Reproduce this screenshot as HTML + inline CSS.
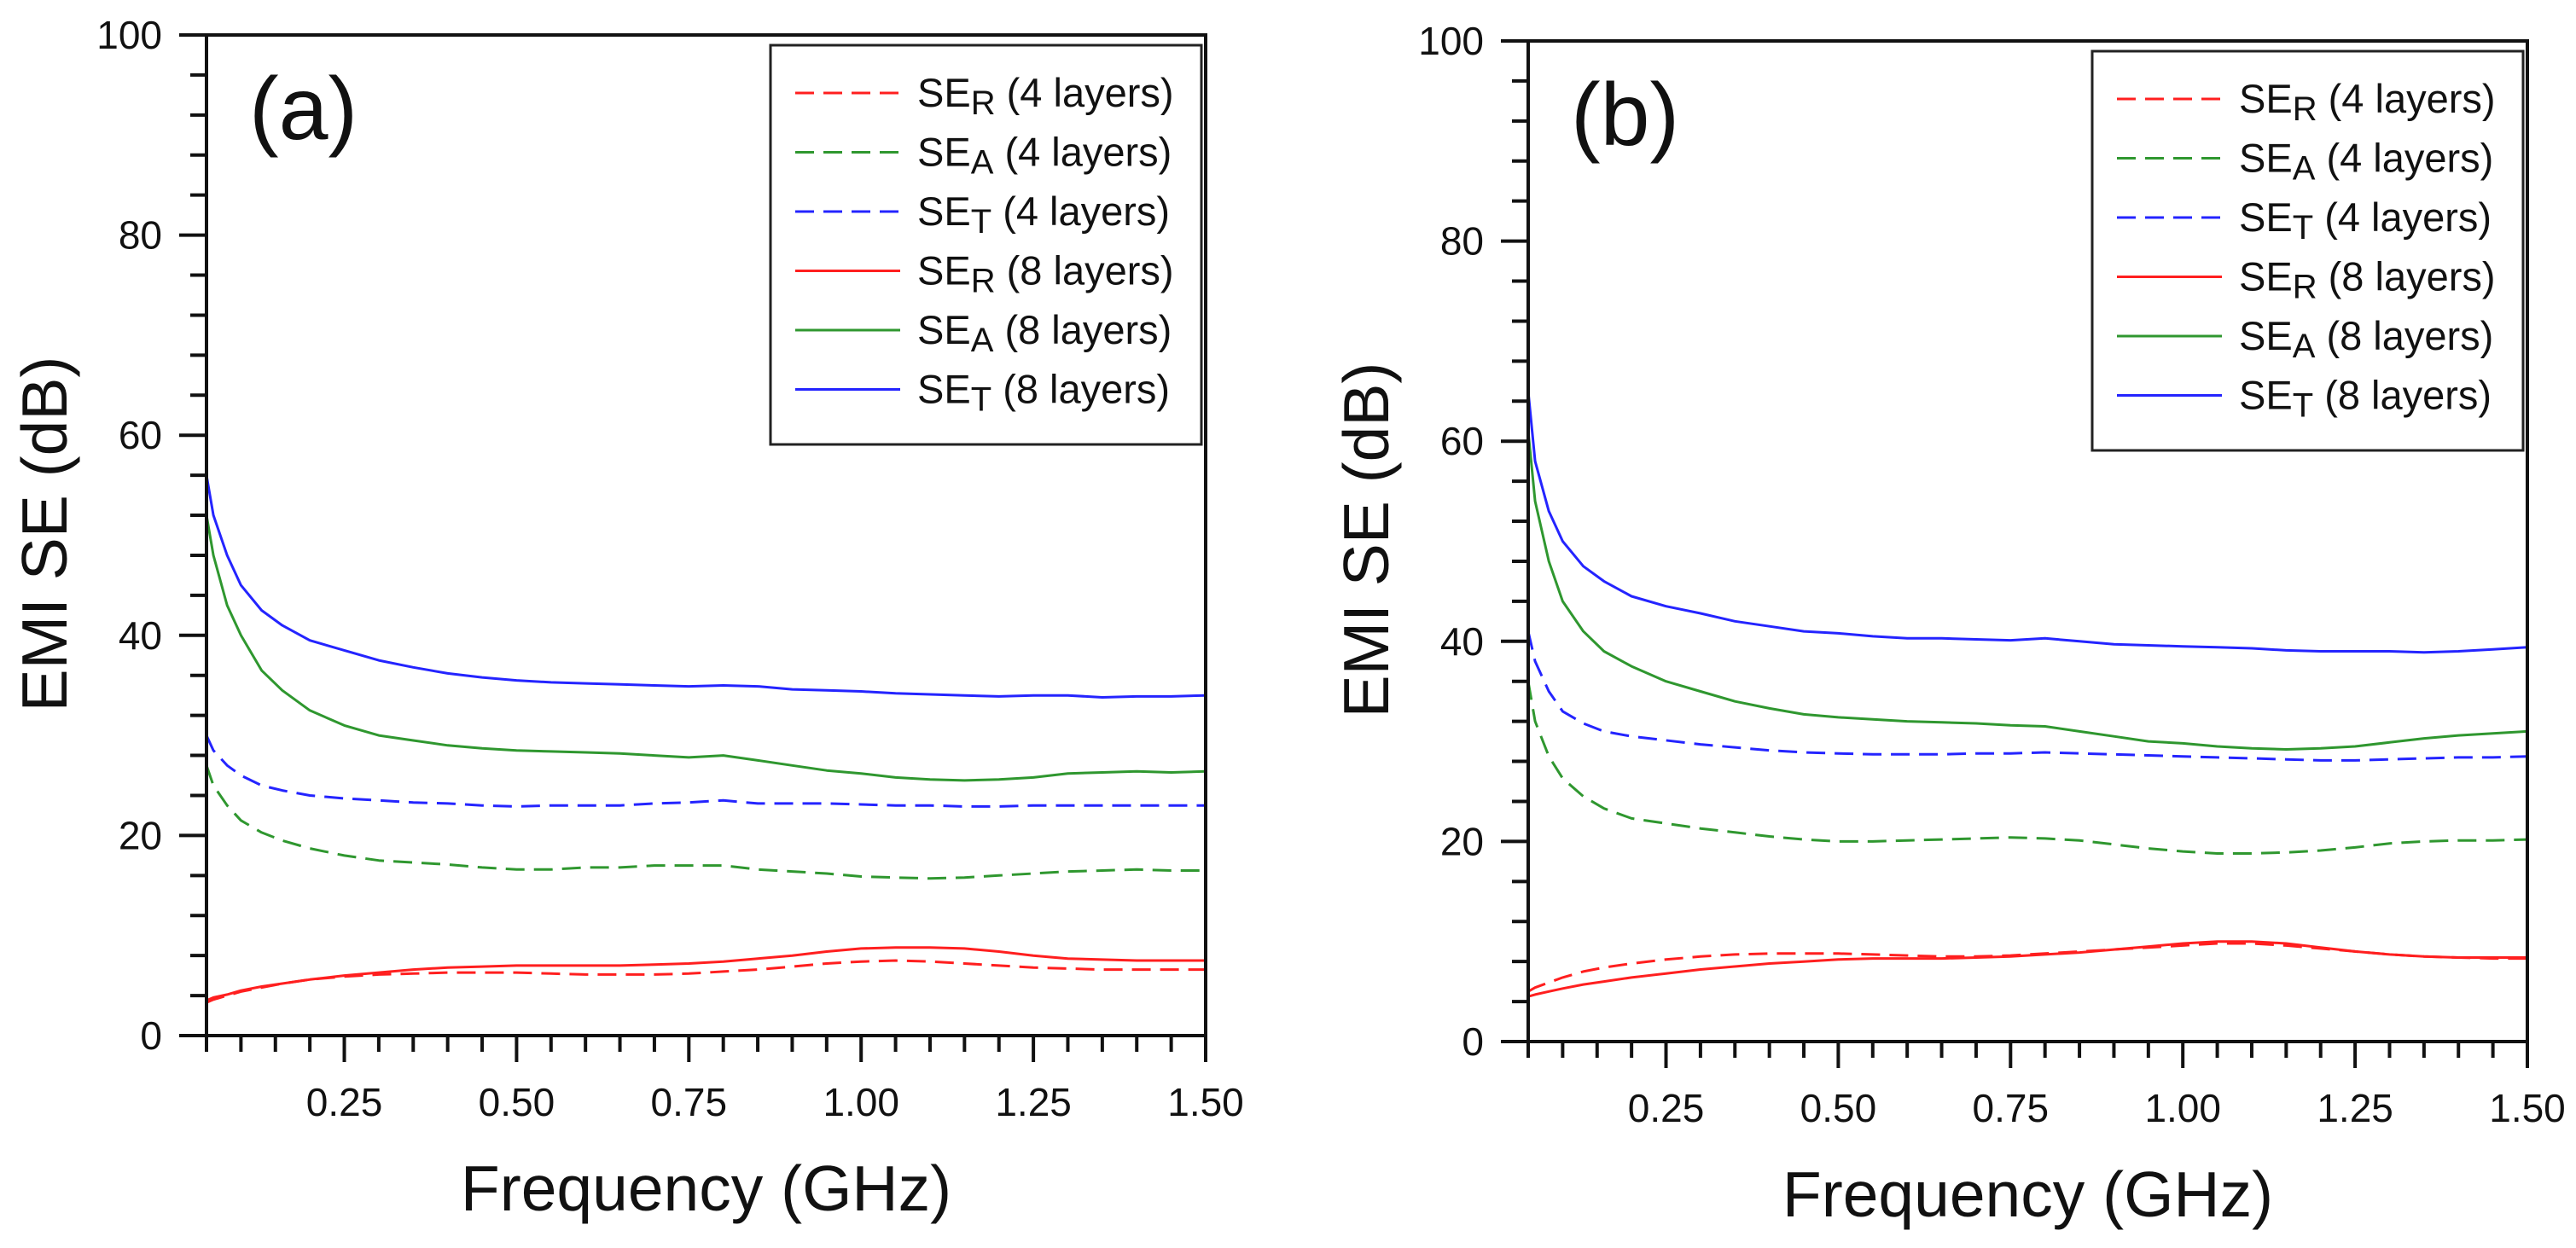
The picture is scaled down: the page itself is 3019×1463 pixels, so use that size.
<!DOCTYPE html>
<html><head><meta charset="utf-8"><style>
html,body{margin:0;padding:0;background:#fff;}
svg{display:block;font-family:"Liberation Sans",Arial,sans-serif;}
</style></head><body>
<svg id="fig" width="3019" height="1463" viewBox="0 0 3019 1463" xmlns="http://www.w3.org/2000/svg"></svg>
<script>
const freq = [0.05,0.06,0.08,0.1,0.13,0.16,0.2,0.25,0.3,0.35,0.4,0.45,0.5,0.55,0.6,0.65,0.7,0.75,0.8,0.85,0.9,0.95,1.0,1.05,1.1,1.15,1.2,1.25,1.3,1.35,1.4,1.45,1.5];
const xTicks = [0.25,0.5,0.75,1.0,1.25,1.5];
const xTickLabels = ["0.25","0.50","0.75","1.00","1.25","1.50"];
const yTicks = [0,20,40,60,80,100];
const a_SER4 = [3.3,3.6,4,4.4,4.8,5.2,5.6,5.9,6.1,6.2,6.3,6.3,6.3,6.2,6.1,6.1,6.1,6.2,6.4,6.6,6.9,7.2,7.4,7.5,7.4,7.2,7,6.8,6.7,6.6,6.6,6.6,6.6];
const a_SEA4 = [27,25,23,21.5,20.3,19.5,18.7,18,17.5,17.3,17.1,16.8,16.6,16.6,16.8,16.8,17,17,17,16.6,16.4,16.2,15.9,15.8,15.7,15.8,16,16.2,16.4,16.5,16.6,16.5,16.5];
const a_SET4 = [30,28.5,27,26,25,24.5,24,23.7,23.5,23.3,23.2,23,22.9,23,23,23,23.2,23.3,23.5,23.2,23.2,23.2,23.1,23,23,22.9,22.9,23,23,23,23,23,23];
const a_SER8 = [3.5,3.8,4.1,4.5,4.9,5.2,5.6,6,6.3,6.6,6.8,6.9,7,7,7,7,7.1,7.2,7.4,7.7,8,8.4,8.7,8.8,8.8,8.7,8.4,8,7.7,7.6,7.5,7.5,7.5];
const a_SEA8 = [52,48,43,40,36.5,34.5,32.5,31,30,29.5,29,28.7,28.5,28.4,28.3,28.2,28,27.8,28,27.5,27,26.5,26.2,25.8,25.6,25.5,25.6,25.8,26.2,26.3,26.4,26.3,26.4];
const a_SET8 = [56,52,48,45,42.5,41,39.5,38.5,37.5,36.8,36.2,35.8,35.5,35.3,35.2,35.1,35,34.9,35,34.9,34.6,34.5,34.4,34.2,34.1,34,33.9,34,34,33.8,33.9,33.9,34];
const b_SER4 = [5,5.4,5.9,6.4,7,7.4,7.8,8.2,8.5,8.7,8.8,8.8,8.8,8.7,8.6,8.5,8.5,8.6,8.8,9,9.2,9.4,9.6,9.8,9.8,9.6,9.3,9,8.7,8.5,8.4,8.3,8.3];
const b_SEA4 = [36,32,28.5,26.3,24.5,23.3,22.3,21.8,21.3,20.9,20.5,20.2,20,20,20.1,20.2,20.3,20.4,20.3,20.1,19.7,19.3,19,18.8,18.8,18.9,19.1,19.4,19.8,20,20.1,20.1,20.2];
const b_SET4 = [41,38,35,33,31.8,31,30.5,30.1,29.7,29.4,29.1,28.9,28.8,28.7,28.7,28.7,28.8,28.8,28.9,28.8,28.7,28.6,28.5,28.4,28.3,28.2,28.1,28.1,28.2,28.3,28.4,28.4,28.5];
const b_SER8 = [4.5,4.7,5,5.3,5.7,6,6.4,6.8,7.2,7.5,7.8,8,8.2,8.3,8.3,8.3,8.4,8.5,8.7,8.9,9.2,9.5,9.8,10,10,9.8,9.4,9,8.7,8.5,8.4,8.4,8.4];
const b_SEA8 = [61,54,48,44,41,39,37.5,36,35,34,33.3,32.7,32.4,32.2,32,31.9,31.8,31.6,31.5,31,30.5,30,29.8,29.5,29.3,29.2,29.3,29.5,29.9,30.3,30.6,30.8,31];
const b_SET8 = [65,58,53,50,47.5,46,44.5,43.5,42.8,42,41.5,41,40.8,40.5,40.3,40.3,40.2,40.1,40.3,40,39.7,39.6,39.5,39.4,39.3,39.1,39,39,39,38.9,39,39.2,39.4];

const NS="http://www.w3.org/2000/svg";
const svg=document.getElementById('fig');
function mk(tag,attrs,parent){const e=document.createElementNS(NS,tag);for(const k in attrs)e.setAttribute(k,attrs[k]);(parent||svg).appendChild(e);return e;}
const RED="#ff1f1f",GREEN="#2f972f",BLUE="#2424ff";
const legendItems=[["R","4",RED,true],["A","4",GREEN,true],["T","4",BLUE,true],["R","8",RED,false],["A","8",GREEN,false],["T","8",BLUE,false]];

function panel(ox,oy,tag,series){
  const L=ox,T=oy,W=1171,H=1173,R=L+W,B=T+H;
  const xs=f=>L+(f-0.05)/1.45*W;
  const ys=v=>B-v/100*H;
  const g=mk('g',{});
  
  
  series.forEach(s=>{
    const d=freq.map((f,j)=>(j?'L':'M')+xs(f).toFixed(1)+' '+ys(s.v[j]).toFixed(1)).join(' ');
    const p=mk('path',{d:d,fill:'none',stroke:s.c,'stroke-width':3,'stroke-linejoin':'round'},g);
    if(s.dash)p.setAttribute('stroke-dasharray','22 11');
    
    
  });
  const fr=mk('rect',{x:L,y:T,width:W,height:H,fill:'none',stroke:'#111','stroke-width':4},g);
  
  
  for(let k=0;k<=29;k++){
    const f=0.05+k*0.05;const x=xs(f);
    const major=(k+1)%5===0;
    const t=mk('line',{x1:x,y1:B,x2:x,y2:B+(major?31:19),stroke:'#111','stroke-width':4},g);
    
    
  }
  xTicks.forEach((f,i)=>{
    const t=mk('text',{x:xs(f),y:B+94,'font-size':46,'text-anchor':'middle',fill:'#111'},g);
    t.textContent=xTickLabels[i];
    
    
  });
  for(let v=0;v<=100;v+=4){
    const major=v%20===0;const y=ys(v);
    const t=mk('line',{x1:L-(major?32:19),y1:y,x2:L,y2:y,stroke:'#111','stroke-width':4},g);
    
    
  }
  yTicks.forEach(v=>{
    const t=mk('text',{x:L-52,y:ys(v)+16,'font-size':46,'text-anchor':'end',fill:'#111'},g);
    t.textContent=String(v);
    
    
  });
  const xt=mk('text',{x:L+W/2,y:B+205,'font-size':75,'text-anchor':'middle',fill:'#111'},g);
  xt.textContent='Frequency (GHz)';
  
  
  const yt=mk('text',{x:0,y:0,'font-size':75,'text-anchor':'middle',fill:'#111',transform:`translate(${L-164},${T+585}) rotate(-90)`},g);
  yt.textContent='EMI SE (dB)';
  
  
  const pl=mk('text',{x:L+50,y:T+122,'font-size':104,fill:'#111'},g);
  pl.textContent='('+tag+')';
  
  
  const lx=L+661,ly=T+12,lw=505,lh=468;
  const lg=mk('g',{},g);
  
  
  mk('rect',{x:lx,y:ly,width:lw,height:lh,fill:'#fff',stroke:'#222','stroke-width':3},lg);
  legendItems.forEach((it,i)=>{
    const cy=ly+56+i*69.5;
    const e=mk('g',{},lg);
    
    
    const ln=mk('line',{x1:lx+29,y1:cy,x2:lx+152,y2:cy,stroke:it[2],'stroke-width':3},e);
    if(it[3])ln.setAttribute('stroke-dasharray','22 11');
    const t=mk('text',{x:lx+172,y:cy+16,'font-size':47,fill:'#111'},e);
    const a=mk('tspan',{},t);a.textContent='SE';
    const b=mk('tspan',{'font-size':40,dy:9},t);b.textContent=it[0];
    const c=mk('tspan',{dy:-9},t);c.textContent=' ('+it[1]+' layers)';
  });
}
panel(242,41,'a',[
 {k:'R',n:4,c:RED,dash:true,v:a_SER4},{k:'A',n:4,c:GREEN,dash:true,v:a_SEA4},{k:'T',n:4,c:BLUE,dash:true,v:a_SET4},
 {k:'R',n:8,c:RED,dash:false,v:a_SER8},{k:'A',n:8,c:GREEN,dash:false,v:a_SEA8},{k:'T',n:8,c:BLUE,dash:false,v:a_SET8}]);
panel(1791,48,'b',[
 {k:'R',n:4,c:RED,dash:true,v:b_SER4},{k:'A',n:4,c:GREEN,dash:true,v:b_SEA4},{k:'T',n:4,c:BLUE,dash:true,v:b_SET4},
 {k:'R',n:8,c:RED,dash:false,v:b_SER8},{k:'A',n:8,c:GREEN,dash:false,v:b_SEA8},{k:'T',n:8,c:BLUE,dash:false,v:b_SET8}]);
</script>
</body></html>
